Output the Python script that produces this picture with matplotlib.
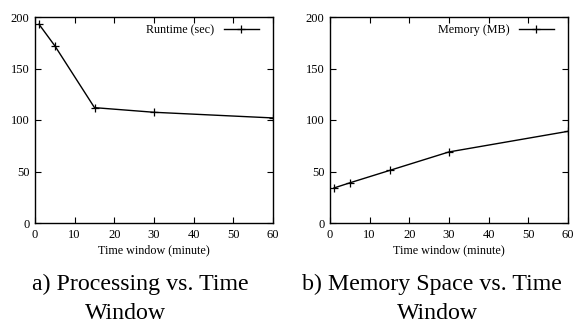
import matplotlib.pyplot as plt

# data
window = [1, 5, 15, 30, 60]
runtime = [193, 172, 112, 107.5, 102]
memory = [34, 39, 51, 69, 89]
xticks = [0, 10, 20, 30, 40, 50, 60]
yticks = [0, 50, 100, 150, 200]

plt.rcParams['font.family'] = ['Liberation Serif', 'DejaVu Serif']

fig = plt.figure(figsize=(5.74, 3.24), dpi=100)
W, H = 574, 324


def panel(left, values, label, cap1, cap1_x, cap2_x):
    ax = fig.add_axes([left / W, (H - 223) / H, 238 / W, 206 / H])
    ax.plot(window, values, color='black', lw=1, marker='+', ms=6, mew=0.9, label=label)
    ax.set_xlim(0, 60)
    ax.set_ylim(0, 200)
    ax.set_xticks(xticks)
    ax.set_yticks(yticks)
    ax.tick_params(direction='in', length=4, width=0.8, labelsize=9,
                   top=True, right=True, pad=4)
    for s in ax.spines.values():
        s.set_linewidth(1)
    ax.set_xlabel('Time window (minute)', fontsize=8.7, labelpad=3)
    ax.legend(loc='upper right', frameon=False, fontsize=8.7, markerfirst=False,
              handlelength=2.9, borderaxespad=0.0, borderpad=0.0, handletextpad=0.8,
              bbox_to_anchor=(1 - 14 / 238, 1 - 7 / 206))
    fig.text(cap1_x / W, 1 - 290 / H, cap1, fontsize=17.2, ha='center', va='baseline')
    fig.text(cap2_x / W, 1 - 319 / H, 'Window', fontsize=17.2, ha='center', va='baseline')
    return ax


panel(35, runtime, 'Runtime (sec)', 'a) Processing vs. Time', 140, 126)
panel(330, memory, 'Memory (MB)', 'b) Memory Space vs. Time', 432, 438)

fig.savefig('out.png', dpi=100)
